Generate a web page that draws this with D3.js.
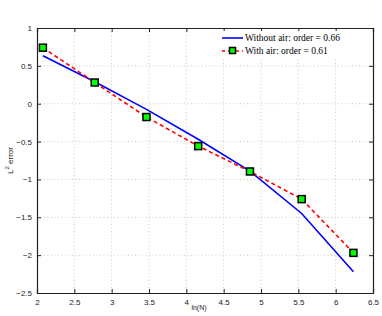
<!DOCTYPE html>
<html><head><meta charset="utf-8">
<script src="https://cdn.jsdelivr.net/npm/d3@7"></script>
<style>body{margin:0;background:#fff}svg{display:block}</style>
</head><body>
<script>
const lnN = [2.079, 2.773, 3.466, 4.159, 4.852, 5.545, 6.238];
const withoutAir = [0.634, 0.29, -0.075, -0.47, -0.89, -1.45, -2.22];
const withAir = [0.74, 0.28, -0.176, -0.56, -0.895, -1.26, -1.97];
const xTicks = [2, 2.5, 3, 3.5, 4, 4.5, 5, 5.5, 6, 6.5];
const yTicks = [1, 0.5, 0, -0.5, -1, -1.5, -2, -2.5];
const legendLabels = ["Without air: order = 0.66", "With air: order = 0.61"];

const W = 382, H = 316;
const m = {l: 37, r: 9, t: 28, b: 23};
const svg = d3.select("body").append("svg").attr("width", W).attr("height", H);
const x = d3.scaleLinear().domain([2, 6.5]).range([m.l, W - m.r]);
const y = d3.scaleLinear().domain([-2.5, 1]).range([H - m.b, m.t]);
const fmt = v => (v < 0 ? "\u2212" : "") + Math.abs(v);

// grid
const g = svg.append("g");
g.selectAll(".gx").data(xTicks.slice(1, -1)).enter().append("line")
  .attr("x1", d => x(d)).attr("x2", d => x(d)).attr("y1", y(1)).attr("y2", y(-2.5))
  .attr("stroke", "#bbb").attr("stroke-width", 0.8).attr("stroke-dasharray", "1,2.5");
g.selectAll(".gy").data(yTicks.slice(1, -1)).enter().append("line")
  .attr("y1", d => y(d)).attr("y2", d => y(d)).attr("x1", x(2)).attr("x2", x(6.5))
  .attr("stroke", "#bbb").attr("stroke-width", 0.8).attr("stroke-dasharray", "1,2.5");

// axes
const ax = d3.axisBottom(x).tickValues(xTicks).tickSize(-4).tickPadding(6).tickFormat(fmt);
const ay = d3.axisLeft(y).tickValues(yTicks).tickSize(-4).tickPadding(5).tickFormat(fmt);
const axT = d3.axisTop(x).tickValues(xTicks).tickSize(-4).tickFormat("");
const ayR = d3.axisRight(y).tickValues(yTicks).tickSize(-4).tickFormat("");
function style(sel) {
  sel.selectAll("path,line").attr("stroke", "#222").attr("stroke-width", 1);
  sel.selectAll("text").attr("font-family", "Liberation Sans, Arial, sans-serif").attr("font-size", 8).attr("fill", "#222");
}
svg.append("g").attr("transform", `translate(0,${y(-2.5)})`).call(ax).call(style);
svg.append("g").attr("transform", `translate(${x(2)},0)`).call(ay).call(style);
svg.append("g").attr("transform", `translate(0,${y(1)})`).call(axT).call(style);
svg.append("g").attr("transform", `translate(${x(6.5)},0)`).call(ayR).call(style);
svg.selectAll(".domain").attr("stroke-width", 1.2);

// lines
const pts1 = lnN.map((v, i) => [v, withoutAir[i]]);
const pts2 = lnN.map((v, i) => [v, withAir[i]]);
const line = d3.line().x(d => x(d[0])).y(d => y(d[1]));
svg.append("path").attr("d", line(pts1)).attr("fill", "none").attr("stroke", "#0000ff").attr("stroke-width", 1.6);
svg.append("path").attr("d", line(pts2)).attr("fill", "none").attr("stroke", "#ff0000").attr("stroke-width", 1.6).attr("stroke-dasharray", "4,3");
svg.selectAll(".mk").data(pts2).enter().append("rect")
  .attr("x", d => x(d[0]) - 3.5).attr("y", d => y(d[1]) - 3.5).attr("width", 7).attr("height", 7)
  .attr("fill", "#00ff00").attr("stroke", "#000").attr("stroke-width", 1.5);

// legend
const lg = svg.append("g");
lg.append("rect").attr("x", 217).attr("y", 31).attr("width", 150).attr("height", 28).attr("fill", "#fff");
lg.append("line").attr("x1", 222).attr("x2", 243).attr("y1", 38).attr("y2", 38).attr("stroke", "#0000ff").attr("stroke-width", 1.6);
lg.append("line").attr("x1", 222).attr("x2", 243).attr("y1", 51).attr("y2", 51).attr("stroke", "#ff0000").attr("stroke-width", 1.6).attr("stroke-dasharray", "4,3").attr("stroke-dashoffset", 1);
lg.append("rect").attr("x", 229.5).attr("y", 47.5).attr("width", 6).attr("height", 6).attr("fill", "#00ff00").attr("stroke", "#000").attr("stroke-width", 1.5);
lg.selectAll("text").data(legendLabels).enter().append("text")
  .attr("x", 245).attr("y", (d, i) => 41 + i * 13).text(d => d)
  .attr("font-family", "Liberation Serif, Times New Roman, serif").attr("font-size", 9.5).attr("fill", "#000");

// labels
svg.append("text").attr("x", 199).attr("y", 310).attr("text-anchor", "middle")
  .attr("font-family", "Liberation Sans, Arial, sans-serif").attr("font-size", 7).attr("fill", "#222").text("ln(N)");
const yl = svg.append("text").attr("transform", `translate(13,${y(-0.75)}) rotate(-90)`).attr("text-anchor", "middle")
  .attr("font-family", "Liberation Sans, Arial, sans-serif").attr("font-size", 8).attr("fill", "#222");
yl.append("tspan").text("L");
yl.append("tspan").attr("dy", -4).attr("font-size", 6).text("2");
yl.append("tspan").attr("dy", 4).text(" error");
</script>
</body></html>
